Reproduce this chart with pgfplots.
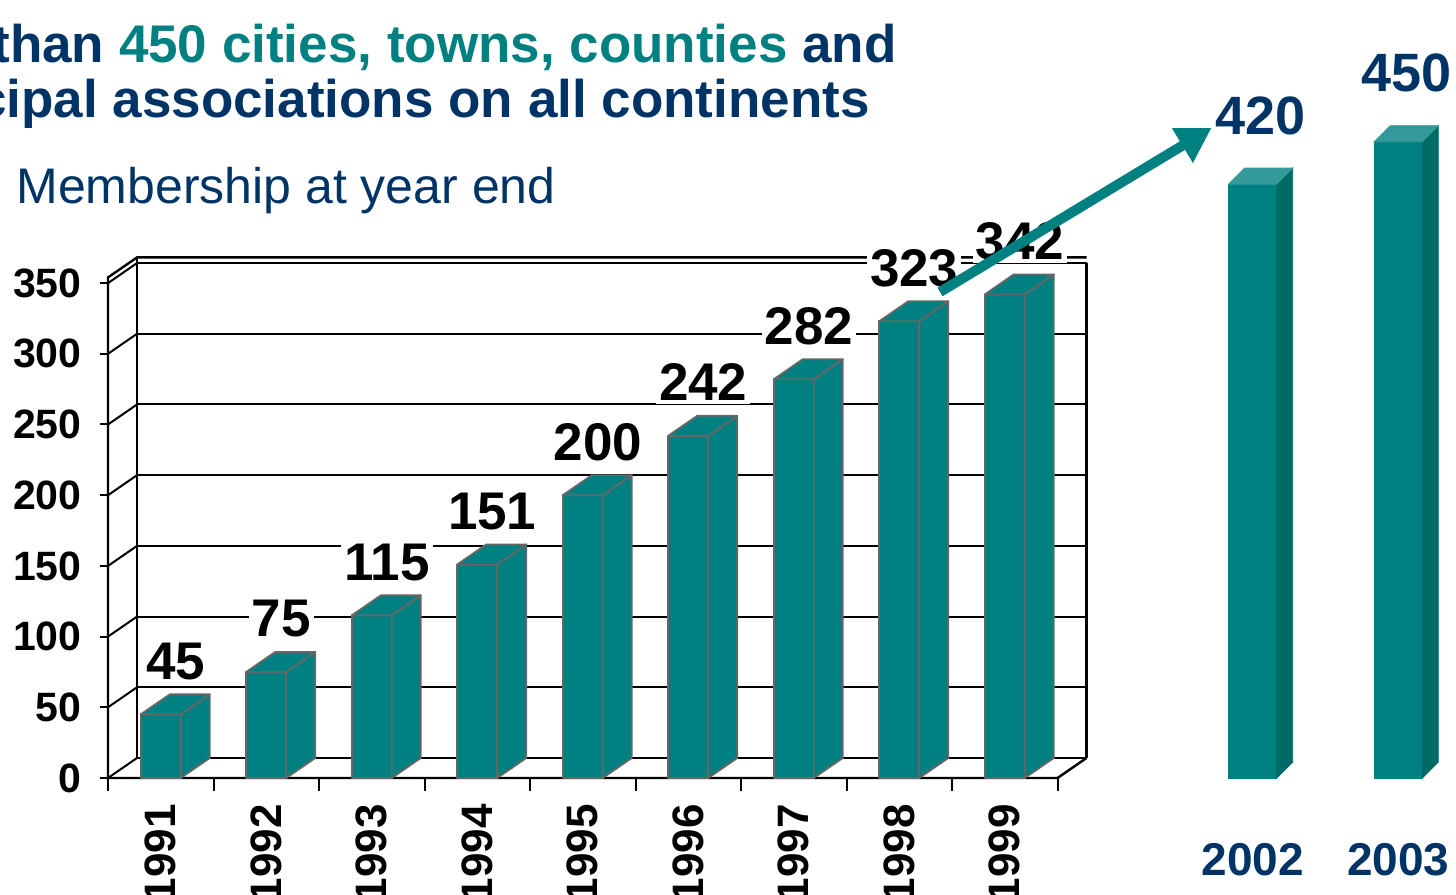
\documentclass[border=0pt]{standalone}
\usepackage{fontspec}
\setmainfont{Liberation Sans}
\usepackage{pgfplots}
\usepackage{pgfplotstable}
\pgfplotsset{compat=1.18}
\usetikzlibrary{arrows.meta}
\pgfdeclareplotmark{nothing}{}
\definecolor{teal3d}{RGB}{0,128,128}
\definecolor{tealdark}{RGB}{0,107,102}
\definecolor{teallight}{RGB}{51,153,153}
\definecolor{navy}{RGB}{0,51,102}
\definecolor{bargray}{RGB}{102,102,102}
\newcommand{\yu}{0.707}

\pgfplotstableread{
x v
1 45
2 75
3 115
4 151
5 200
6 242
7 282
8 323
9 342
}\maindata

\pgfplotstableread{
x v
11.35 420
12.73 450
}\futuredata

\begin{document}
\begin{tikzpicture}
% titles
\node[anchor=base east, inner sep=0, font=\bfseries\fontsize{26.5}{30}\selectfont, text=navy]
  at (448.5pt,415.5pt) {More than \textcolor{teal3d}{450 cities, towns, counties} and};
\node[anchor=base east, inner sep=0, font=\bfseries\fontsize{26.5}{30}\selectfont, text=navy]
  at (435pt,388pt) {municipal associations on all continents};
\node[anchor=base west, inner sep=0, font=\fontsize{25}{28}\selectfont, text=navy]
  at (8pt,345pt) {Membership at year end};

\begin{axis}[
  at={(54pt,58pt)}, anchor=south west,
  x=52.75pt, y=0.707pt,
  xmin=0.5, xmax=9.5, ymin=0, ymax=350,
  clip=false,
  axis lines*=left,
  axis line style={draw=none},
  xtick={1,2,3,4,5,6,7,8,9},
  xticklabels={1991,1992,1993,1994,1995,1996,1997,1998,1999},
  ytick={0,50,100,150,200,250,300,350},
  major tick length=0pt,
  tick style={draw=none},
  xticklabel style={rotate=90, anchor=east, inner sep=0pt, font=\bfseries\fontsize{22}{24}\selectfont},
  xticklabel shift=13pt,
  yticklabel style={anchor=east, inner sep=0pt, font=\bfseries\fontsize{20.5}{22}\selectfont},
  yticklabel shift=13pt,
  /pgf/number format/assume math mode=true,
]
% 3D frame: back wall grid and left wall diagonals
\pgfplotsinvokeforeach{0,50,100,150,200,250,300,350}{
  \draw[black, line width=1pt] ([shift={(14.5pt,10pt)}]axis cs:0.5,#1) -- ([shift={(14.5pt,10pt)}]axis cs:9.5,#1);
  \draw[black, line width=1pt] (axis cs:0.5,#1) -- ++(14.5pt,10pt);
  \draw[black, line width=1pt] (axis cs:0.5,#1) -- ++(-4pt,0pt);
}
\draw[black, line width=1.2pt] (axis cs:0.5,0) -- (axis cs:0.5,354) -- ++(14.5pt,10pt) -- ([shift={(14.5pt,10pt)}]axis cs:9.5,354);
\draw[black, line width=1.2pt] ([shift={(14.5pt,10pt)}]axis cs:0.5,0) -- ([shift={(14.5pt,10pt)}]axis cs:0.5,354);
\draw[black, line width=1.2pt] ([shift={(14.5pt,10pt)}]axis cs:9.5,0) -- ([shift={(14.5pt,10pt)}]axis cs:9.5,350);
\draw[black, line width=1.2pt] (axis cs:0.5,0) -- (axis cs:9.5,0) -- ++(14.5pt,10pt);
\pgfplotsinvokeforeach{0.5,1.5,2.5,3.5,4.5,5.5,6.5,7.5,8.5,9.5}{
  \draw[black, line width=1pt] (axis cs:#1,0) -- ++(0pt,-6.5pt);
}

% main 3D bars
\addplot[scatter, only marks, mark=nothing,
  visualization depends on={\thisrow{v} \as \val},
  scatter/@pre marker code/.code={
    \pgfmathsetmacro{\h}{\val*\yu}
    \pgfmathtruncatemacro{\lab}{round(\val)}
    \filldraw[fill=teal3d, draw=bargray, line width=0.9pt, line join=round]
      (-10pt,0pt) rectangle (10pt,-\h pt);
    \filldraw[fill=teal3d, draw=bargray, line width=0.9pt, line join=round]
      (10pt,0pt) -- ++(14.5pt,10pt) -- ++(0pt,-\h pt) -- (10pt,-\h pt) -- cycle;
    \filldraw[fill=teal3d, draw=bargray, line width=0.9pt, line join=round]
      (-10pt,0pt) -- ++(14.5pt,10pt) -- ++(20pt,0pt) -- (10pt,0pt) -- cycle;
    \node[anchor=base, fill=white, inner sep=1.5pt, font=\bfseries\fontsize{26.5}{28}\selectfont]
      at (7.5pt,17.5pt) {\lab};
  },
  scatter/@post marker code/.code={},
] table[x=x, y=v] {\maindata};

% projected bars 2002, 2003
\addplot[scatter, only marks, mark=nothing,
  visualization depends on={\thisrow{v} \as \val},
  scatter/@pre marker code/.code={
    \pgfmathsetmacro{\h}{\val*\yu}
    \pgfmathtruncatemacro{\lab}{round(\val)}
    \fill[teal3d] (-12pt,0pt) rectangle (12pt,-\h pt);
    \fill[tealdark] (12pt,0pt) -- ++(8pt,8pt) -- ++(0pt,-\h pt) -- (12pt,-\h pt) -- cycle;
    \fill[teallight] (-12pt,0pt) -- ++(8pt,8pt) -- ++(24pt,0pt) -- (12pt,0pt) -- cycle;
    \node[anchor=base, inner sep=0pt, text=navy, font=\bfseries\fontsize{27}{29}\selectfont]
      at (4pt,25pt) {\lab};
  },
  scatter/@post marker code/.code={},
] table[x=x, y=v] {\futuredata};

\node[anchor=base, inner sep=0pt, text=navy, font=\bfseries\fontsize{23}{25}\selectfont]
  at ([yshift=-48.5pt]axis cs:11.35,0) {2002};
\node[anchor=base, inner sep=0pt, text=navy, font=\bfseries\fontsize{23}{25}\selectfont]
  at ([yshift=-48.5pt]axis cs:12.73,0) {2003};

\coordinate (arrA) at (axis cs:8.386,343.7);
\coordinate (arrB) at (axis cs:10.96,459.7);
\end{axis}
% arrow drawn on top of everything
\draw[teal3d, line width=5pt, -{Triangle[length=17pt, width=19pt]}] (arrA) -- (arrB);
\pgfresetboundingbox
\path[use as bounding box] (0,0) rectangle (728pt,447pt);
\end{tikzpicture}
\end{document}
